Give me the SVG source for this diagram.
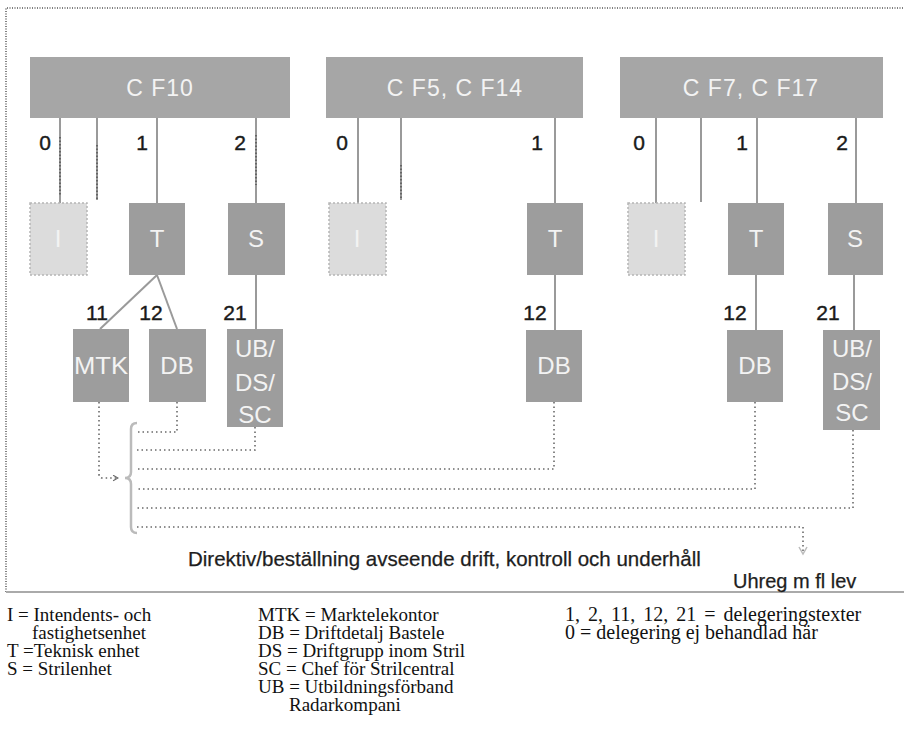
<svg xmlns="http://www.w3.org/2000/svg" width="904" height="745" viewBox="0 0 904 745">
<defs>
<style>
.frame{fill:none;stroke:#555;stroke-width:1.5;stroke-dasharray:1 1.5}
.base{stroke:#aaa;stroke-width:2}
.top{fill:#a6a6a6}
.unit{fill:#9d9d9d}
.ibox{fill:#dcdcdc;stroke:#b5b5b5;stroke-width:1.5;stroke-dasharray:2 2}
.btxt{font-family:"Liberation Sans",Arial,sans-serif;fill:#f3f3f3;text-anchor:middle}
.ttl{font-size:23px;letter-spacing:1px}
.ut{font-size:24px}
.num{font-family:"Liberation Sans",Arial,sans-serif;font-size:21px;fill:#1a1a1a;stroke:#1a1a1a;stroke-width:0.4;text-anchor:middle}
.solid{fill:none;stroke:#9a9a9a;stroke-width:2}
.sdot{fill:none;stroke:#555;stroke-width:1.5;stroke-dasharray:1.5 2}
.dot{fill:none;stroke:#6a6a6a;stroke-width:1.6;stroke-dasharray:1.5 3}
.brace{fill:none;stroke:#bbb;stroke-width:2.5}
.cap{font-family:"Liberation Sans",Arial,sans-serif;fill:#1e1e1e;stroke:#1e1e1e;stroke-width:0.25}
.leg{font-family:"Liberation Serif","Times New Roman",serif;font-size:19px;fill:#111}
</style>
<marker id="chev" viewBox="0 0 10 10" refX="8" refY="5" markerWidth="7" markerHeight="7" orient="auto" markerUnits="userSpaceOnUse">
<path d="M1,1 L8,5 L1,9" fill="none" stroke="#666" stroke-width="1.5"/>
</marker>
<marker id="chev2" viewBox="0 0 10 10" refX="8" refY="5" markerWidth="10" markerHeight="10" orient="auto" markerUnits="userSpaceOnUse">
<path d="M1,1 L8,5 L1,9" fill="none" stroke="#bbb" stroke-width="1.5"/>
</marker>
</defs>
<rect width="904" height="745" fill="#fff"/>
<g id="frame">
<path class="frame" d="M6,592 V8 H904"/>
<line class="base" x1="6" y1="592" x2="904" y2="592"/>
</g>

<g id="connectors">
<!-- CF10 -->
<line class="solid" x1="60" y1="118" x2="60" y2="203"/>
<line class="solid" x1="97" y1="118" x2="97" y2="200"/>
<line class="solid" x1="157" y1="118" x2="157" y2="203"/>
<line class="solid" x1="256" y1="118" x2="256" y2="203"/>
<line class="sdot" x1="60" y1="137" x2="60" y2="195"/>
<line class="sdot" x1="97" y1="145" x2="97" y2="200"/>
<line class="sdot" x1="256" y1="135" x2="256" y2="185"/>
<!-- CF5 -->
<line class="solid" x1="358" y1="118" x2="358" y2="203"/>
<line class="solid" x1="401" y1="118" x2="401" y2="200"/>
<line class="solid" x1="555" y1="118" x2="555" y2="203"/>
<line class="sdot" x1="401" y1="165" x2="401" y2="200"/>
<!-- CF7 -->
<line class="solid" x1="656" y1="118" x2="656" y2="203"/>
<line class="solid" x1="701" y1="118" x2="701" y2="202"/>
<line class="solid" x1="757" y1="118" x2="757" y2="203"/>
<line class="solid" x1="856" y1="118" x2="856" y2="203"/>
<!-- second level -->
<line class="solid" x1="157" y1="275" x2="100" y2="329"/>
<line class="solid" x1="157" y1="275" x2="177" y2="329"/>
<line class="solid" x1="256" y1="275" x2="256" y2="329"/>
<line class="solid" x1="555" y1="275" x2="555" y2="330"/>
<line class="solid" x1="756" y1="275" x2="756" y2="330"/>
<line class="solid" x1="854" y1="275" x2="854" y2="330"/>
<!-- dotted directives -->
<path class="dot" d="M99,402 V474 Q99,478 103,478 H118" marker-end="url(#chev)"/>
<path class="dot" d="M177,402 V432 H137"/>
<path class="dot" d="M255,427 V450 H137"/>
<path class="dot" d="M554,402 V469 H137"/>
<path class="dot" d="M755,402 V489 H137"/>
<path class="dot" d="M853,430 V508 H137"/>
<path class="dot" d="M137,527 H803 V554" marker-end="url(#chev2)"/>
<path class="brace" d="M137,423 Q131,423 131,429 V472 Q131,478 125,478 Q131,478 131,484 V527 Q131,533 137,533"/>
<!-- labels -->
<text class="num" x="45" y="150">0</text>
<text class="num" x="142" y="150">1</text>
<text class="num" x="240" y="150">2</text>
<text class="num" x="342" y="150">0</text>
<text class="num" x="537" y="150">1</text>
<text class="num" x="639" y="150">0</text>
<text class="num" x="742" y="150">1</text>
<text class="num" x="842" y="150">2</text>
<text class="num" x="97" y="320">11</text>
<text class="num" x="151" y="320">12</text>
<text class="num" x="235" y="320">21</text>
<text class="num" x="535" y="320">12</text>
<text class="num" x="735" y="320">12</text>
<text class="num" x="828" y="320">21</text>
</g>

<g id="cf10"><rect class="top" x="30" y="57" width="260" height="61"/><text class="btxt ttl" x="160" y="96">C F10</text></g>
<g id="cf5"><rect class="top" x="326" y="57" width="257" height="61"/><text class="btxt ttl" x="455" y="96">C F5, C F14</text></g>
<g id="cf7"><rect class="top" x="620" y="57" width="263" height="61"/><text class="btxt ttl" x="751" y="96">C F7, C F17</text></g>

<g id="cf10-i"><rect class="ibox" x="30" y="203" width="57" height="72"/><text class="btxt ut" x="58" y="247">I</text></g>
<g id="cf10-t"><rect class="unit" x="129" y="203" width="56" height="72"/><text class="btxt ut" x="157" y="247">T</text></g>
<g id="cf10-s"><rect class="unit" x="228" y="203" width="57" height="72"/><text class="btxt ut" x="256" y="247">S</text></g>
<g id="cf5-i"><rect class="ibox" x="329" y="203" width="57" height="72"/><text class="btxt ut" x="357" y="247">I</text></g>
<g id="cf5-t"><rect class="unit" x="527" y="203" width="56" height="72"/><text class="btxt ut" x="555" y="247">T</text></g>
<g id="cf7-i"><rect class="ibox" x="628" y="203" width="57" height="72"/><text class="btxt ut" x="656" y="247">I</text></g>
<g id="cf7-t"><rect class="unit" x="728" y="203" width="56" height="72"/><text class="btxt ut" x="756" y="247">T</text></g>
<g id="cf7-s"><rect class="unit" x="828" y="203" width="55" height="72"/><text class="btxt ut" x="855" y="247">S</text></g>

<g id="cf10-mtk"><rect class="unit" x="73" y="329" width="56" height="73"/><text class="btxt ut" x="101" y="374" textLength="54" lengthAdjust="spacingAndGlyphs">MTK</text></g>
<g id="cf10-db"><rect class="unit" x="149" y="329" width="57" height="73"/><text class="btxt ut" x="177" y="374">DB</text></g>
<g id="cf10-ub"><rect class="unit" x="227" y="329" width="56" height="98"/><text class="btxt ut" x="255" y="357">UB/</text><text class="btxt ut" x="255" y="391">DS/</text><text class="btxt ut" x="255" y="423">SC</text></g>
<g id="cf5-db"><rect class="unit" x="526" y="330" width="56" height="72"/><text class="btxt ut" x="554" y="374">DB</text></g>
<g id="cf7-db"><rect class="unit" x="727" y="330" width="56" height="72"/><text class="btxt ut" x="755" y="374">DB</text></g>
<g id="cf7-ub"><rect class="unit" x="823" y="330" width="57" height="100"/><text class="btxt ut" x="852" y="357">UB/</text><text class="btxt ut" x="852" y="390">DS/</text><text class="btxt ut" x="852" y="421">SC</text></g>

<g id="captions">
<text class="cap" x="188" y="566" font-size="20.5">Direktiv/beställning avseende drift, kontroll och underhåll</text>
<text class="cap" x="733" y="588" font-size="20">Uhreg m fl lev</text>
</g>

<g id="legend" class="leg">
<text x="7" y="621">I = Intendents- och</text>
<text x="32" y="639">fastighetsenhet</text>
<text x="7" y="657">T =Teknisk enhet</text>
<text x="7" y="675">S = Strilenhet</text>
<text x="258" y="621">MTK = Marktelekontor</text>
<text x="258" y="639">DB = Driftdetalj Bastele</text>
<text x="258" y="657">DS = Driftgrupp inom Stril</text>
<text x="258" y="675">SC = Chef för Strilcentral</text>
<text x="258" y="693">UB = Utbildningsförband</text>
<text x="289" y="711">Radarkompani</text>
<text x="565" y="621" font-size="20" word-spacing="3">1, 2, 11, 12, 21 = delegeringstexter</text>
<text x="565" y="639" font-size="20">0 = delegering ej behandlad här</text>
</g>
</svg>
